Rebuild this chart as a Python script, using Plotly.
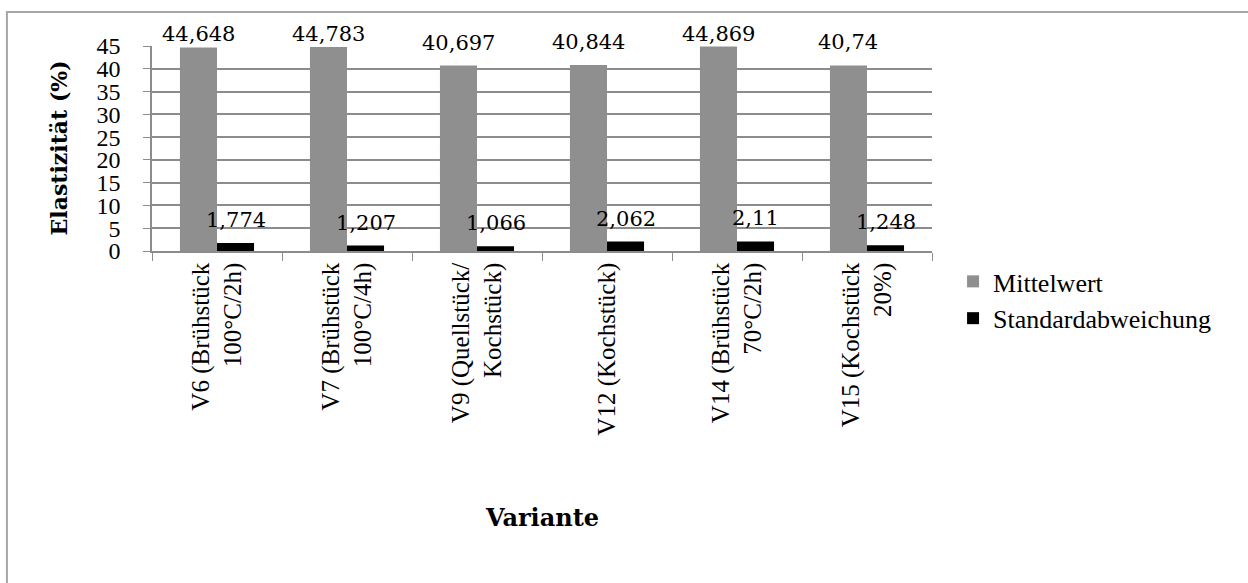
import plotly.graph_objects as go

# Elastizität je Teigvariante: Mittelwert und Standardabweichung
varianten = [
    "V6 (Brühstück<br>100°C/2h)",
    "V7 (Brühstück<br>100°C/4h)",
    "V9 (Quellstück/<br>Kochstück)",
    "V12 (Kochstück)",
    "V14 (Brühstück<br>70°C/2h)",
    "V15 (Kochstück<br>20%)",
]
mittelwert = [44.648, 44.783, 40.697, 40.844, 44.869, 40.74]
standardabweichung = [1.774, 1.207, 1.066, 2.062, 2.11, 1.248]
y_ticks = [0, 5, 10, 15, 20, 25, 30, 35, 40, 45]

W, H = 1248, 583
M_L, M_R, M_T, M_B = 152, 316, 46, 332
Y_MAX = 45
BARGAP = 0.43


def de_label(v):
    # German decimal comma, trailing zeros dropped
    return ("%g" % v).replace(".", ",")


SERIF = "Liberation Serif, Times New Roman, serif"
LABEL_FONT = dict(family="DejaVu Serif, serif", size=21, color="#000000")
GRID = "#8c8c8c"

fig = go.Figure()
fig.add_trace(go.Bar(
    name="Mittelwert", x=varianten, y=mittelwert,
    marker=dict(color="#8f8f8f", line=dict(width=0)),
))
fig.add_trace(go.Bar(
    name="Standardabweichung", x=varianten, y=standardabweichung,
    marker=dict(color="#000000", line=dict(width=0)),
))

# Datenbeschriftungen über den Säulen (innerhalb des Diagrammbereichs gehalten)
plot_h = H - M_T - M_B
px_per_unit = plot_h / Y_MAX
slot_px = (W - M_L - M_R) / len(varianten)
bar_px = slot_px * (1 - BARGAP) / 2
for serie, shift in ((mittelwert, -bar_px / 2), (standardabweichung, bar_px / 2)):
    for cat, v in zip(varianten, serie):
        top_px = M_T + (Y_MAX - v) * px_per_unit
        lift = min(23, top_px - 34)
        fig.add_annotation(
            x=cat, y=v, xref="x", yref="y", text=de_label(v),
            xanchor="center", yanchor="middle", xshift=shift, yshift=lift,
            showarrow=False, font=LABEL_FONT,
        )

fig.update_layout(
    width=W, height=H,
    margin=dict(l=M_L, r=M_R, t=M_T, b=M_B),
    paper_bgcolor="white", plot_bgcolor="white",
    barmode="group", bargap=BARGAP, bargroupgap=0,
    font=dict(family=SERIF, color="#000000"),
    showlegend=True,
    legend=dict(
        x=1.027, xanchor="left", y=-0.034, yanchor="top",
        font=dict(family=SERIF, size=26, color="#000000"),
        itemwidth=30, bgcolor="rgba(0,0,0,0)",
    ),
)

fig.update_xaxes(
    type="category", tickangle=-90,
    tickfont=dict(family=SERIF, size=25, color="#000000"),
    showline=True, linecolor=GRID, linewidth=1.5,
    ticks="outside", tickson="boundaries", ticklen=8, tickcolor=GRID,
    showgrid=False,
)
fig.update_yaxes(
    range=[0, Y_MAX], tickvals=y_ticks, ticktext=[str(t) for t in y_ticks],
    tickfont=dict(family=SERIF, size=24, color="#000000"),
    showline=True, linecolor=GRID, linewidth=1.5,
    ticks="outside", ticklen=7, tickcolor=GRID, ticklabelstandoff=18,
    showgrid=True, gridcolor=GRID, gridwidth=1.5,
    zeroline=False,
)

# Achsentitel
fig.add_annotation(
    text="<b>Elastizität (%)</b>", xref="paper", yref="paper",
    x=-0.118, y=0.505, xanchor="center", yanchor="middle", textangle=-90,
    showarrow=False, font=dict(family="DejaVu Serif, serif", size=22, color="#000000"),
)
fig.add_annotation(
    text="<b>Variante</b>", xref="paper", yref="paper",
    x=0.5, y=-1.3, xanchor="center", yanchor="middle",
    showarrow=False, font=dict(family="DejaVu Serif, serif", size=24, color="#000000"),
)

# Rahmen um das Diagramm
fig.add_shape(
    type="rect", xref="paper", yref="paper",
    x0=-0.186, x1=1.6, y0=-2.0, y1=1.166,
    line=dict(color="#a6a6a6", width=2), fillcolor="rgba(0,0,0,0)", layer="below",
)

fig.write_html("out.html")
